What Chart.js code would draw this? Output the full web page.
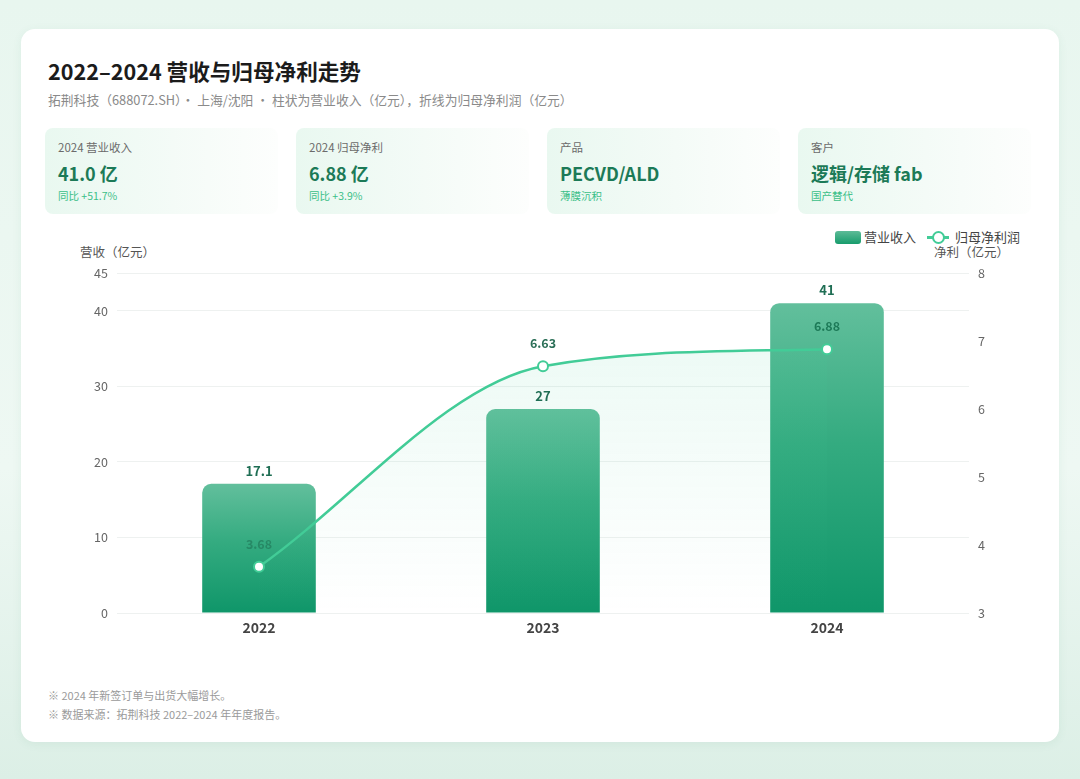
<!DOCTYPE html>
<html>
<head>
<meta charset="utf-8">
<script src="https://cdn.jsdelivr.net/npm/chart.js@4.4.1/dist/chart.umd.min.js"></script>
<style>
  html,body{margin:0;padding:0;}
  body{width:1080px;height:779px;overflow:hidden;position:relative;
    background:linear-gradient(180deg,#e8f6ef 0%,#eef8f3 60%,#dcefe6 100%);
    font-family:"Noto Sans CJK SC","Noto Sans",sans-serif;}
  .card{position:absolute;left:21px;top:29px;width:1038px;height:713px;background:#fff;border-radius:14px;
    box-shadow:0 2px 10px rgba(60,140,100,0.08);}
  .abs{position:absolute;white-space:nowrap;}
  .title{left:48px;top:56px;font-size:21.6px;font-weight:700;color:#1b1b1b;line-height:30px;}
  .sub{left:48px;top:90px;font-size:12.8px;color:#8a8a8a;line-height:20px;}
  .kpi{position:absolute;top:128px;width:233px;height:86px;border-radius:8px;
    background:linear-gradient(90deg,#e9f8f0 0%,#f4fbf7 55%,#fdfefd 100%);}
  .kpi .l{position:absolute;left:13px;top:11px;font-size:11.5px;color:#6b6b6b;line-height:16px;}
  .kpi .v{position:absolute;left:13px;top:32px;font-size:18px;font-weight:700;color:#1c7a57;line-height:26px;}
  .kpi .s{position:absolute;left:13px;top:60px;font-size:10.5px;color:#3bbf88;line-height:15px;}
  .axt{font-size:12.5px;color:#555;line-height:16px;}
  .leg{font-size:13px;color:#444;line-height:16px;}
  .foot{left:48px;font-size:11px;color:#9a9a9a;line-height:16px;}
  #wrap{position:absolute;left:40px;top:225px;width:1000px;height:420px;}
</style>
</head>
<body>
<div class="card"></div>
<div class="abs title">2022–2024 营收与归母净利走势</div>
<div class="abs sub">拓荆科技（688072.SH）· 上海/沈阳 · 柱状为营业收入（亿元），折线为归母净利润（亿元）</div>

<div class="kpi" style="left:45px"><div class="l">2024 营业收入</div><div class="v">41.0 亿</div><div class="s">同比 +51.7%</div></div>
<div class="kpi" style="left:296px"><div class="l">2024 归母净利</div><div class="v">6.88 亿</div><div class="s">同比 +3.9%</div></div>
<div class="kpi" style="left:547px"><div class="l">产品</div><div class="v">PECVD/ALD</div><div class="s">薄膜沉积</div></div>
<div class="kpi" style="left:798px"><div class="l">客户</div><div class="v">逻辑/存储 fab</div><div class="s">国产替代</div></div>

<div class="abs axt" style="left:80px;top:244px;">营收（亿元）</div>
<div class="abs axt" style="left:934px;top:244px;">净利（亿元）</div>

<div class="abs" style="left:835px;top:231px;width:26px;height:13px;border-radius:3px;background:linear-gradient(180deg,#5dbb97,#179c6c);"></div>
<div class="abs leg" style="left:864px;top:229px;">营业收入</div>
<div class="abs" style="left:927px;top:236px;width:22px;height:2.5px;background:#42cc97;"></div>
<div class="abs" style="left:932px;top:231px;width:9px;height:9px;border-radius:50%;background:#fff;border:2px solid #42cc97;"></div>
<div class="abs leg" style="left:955px;top:229px;">归母净利润</div>

<div id="wrap"><canvas id="c"></canvas></div>

<div class="abs foot" style="top:687px;">※ 2024 年新签订单与出货大幅增长。</div>
<div class="abs foot" style="top:706px;">※ 数据来源：拓荆科技 2022–2024 年年度报告。</div>

<script>
const categories = ["2022", "2023", "2024"];
const revenue = [17.1, 27, 41];
const netProfit = [3.68, 6.63, 6.88];
const revenueTicks = [0, 10, 20, 30, 40, 45];
const profitTicks = [3, 4, 5, 6, 7, 8];

const labelPlugin = {
  id: 'labels',
  afterDatasetsDraw(chart) {
    const ctx = chart.ctx;
    ctx.save();
    ctx.textAlign = 'center';
    ctx.textBaseline = 'middle';
    const barMeta = chart.getDatasetMeta(1);
    ctx.font = '700 13px "Noto Sans CJK SC", sans-serif';
    ctx.fillStyle = '#1f6e54';
    barMeta.data.forEach((el, i) => {
      ctx.fillText(String(revenue[i]), el.x, el.y - 13);
    });
    const lineMeta = chart.getDatasetMeta(0);
    ctx.font = '700 12.5px "Noto Sans CJK SC", sans-serif';
    lineMeta.data.forEach((el, i) => {
      ctx.fillStyle = i === 0 ? 'rgba(30,110,80,0.55)' : (i === 2 ? '#1d7a58' : '#2b6f57');
      ctx.fillText(netProfit[i].toFixed(2), el.x, el.y - 23);
    });
    ctx.restore();
  }
};

function barGradient(context) {
  const chart = context.chart;
  const area = chart.chartArea;
  if (!area) return '#2aa87a';
  const y = chart.scales.y;
  const v = revenue[context.dataIndex];
  const top = y.getPixelForValue(v);
  const bottom = y.getPixelForValue(0);
  const g = chart.ctx.createLinearGradient(0, top, 0, bottom);
  g.addColorStop(0, '#62bf9c');
  g.addColorStop(0.45, '#34ab80');
  g.addColorStop(1, '#0f9669');
  return g;
}

function lineFill(context) {
  const chart = context.chart;
  const area = chart.chartArea;
  if (!area) return 'rgba(66,204,151,0.08)';
  const g = chart.ctx.createLinearGradient(0, area.top, 0, area.bottom);
  g.addColorStop(0, 'rgba(66,204,151,0.12)');
  g.addColorStop(1, 'rgba(66,204,151,0.0)');
  return g;
}

new Chart(document.getElementById('c'), {
  data: {
    labels: categories,
    datasets: [
      {
        type: 'line',
        label: '归母净利润',
        data: netProfit,
        yAxisID: 'y1',
        order: 0,
        borderColor: '#42cc97',
        borderWidth: 2.5,
        cubicInterpolationMode: 'monotone',
        fill: 'start',
        backgroundColor: lineFill,
        pointRadius: 5,
        pointBorderWidth: 2,
        pointBackgroundColor: '#ffffff',
        pointBorderColor: '#42cc97'
      },
      {
        type: 'bar',
        label: '营业收入',
        data: revenue,
        yAxisID: 'y',
        order: 1,
        backgroundColor: barGradient,
        borderRadius: {topLeft: 9, topRight: 9, bottomLeft: 0, bottomRight: 0},
        borderSkipped: 'bottom',
        categoryPercentage: 1.0,
        barPercentage: 0.4
      }
    ]
  },
  options: {
    responsive: true,
    maintainAspectRatio: false,
    animation: false,
    layout: {padding: {top: 48, left: 0, right: 0, bottom: 0}},
    plugins: {legend: {display: false}, tooltip: {enabled: false}},
    scales: {
      x: {
        grid: {display: false, drawTicks: false},
        border: {display: false},
        ticks: {padding: 6, color: '#444', font: {family: '"Noto Sans CJK SC", sans-serif', size: 14, weight: '700'}},
        afterFit(s) { s.height = 32; }
      },
      y: {
        position: 'left',
        min: 0, max: 45,
        afterBuildTicks(s) { s.ticks = revenueTicks.map(v => ({value: v})); },
        grid: {color: '#eef1f0', lineWidth: 1, drawTicks: false},
        border: {display: false},
        ticks: {padding: 9, color: '#666', font: {family: '"Noto Sans CJK SC", sans-serif', size: 12.5}},
        afterFit(s) { s.width = 77; }
      },
      y1: {
        position: 'right',
        min: 3, max: 8,
        afterBuildTicks(s) { s.ticks = profitTicks.map(v => ({value: v})); },
        grid: {display: false, drawTicks: false},
        border: {display: false},
        ticks: {padding: 9, color: '#666', font: {family: '"Noto Sans CJK SC", sans-serif', size: 12.5}},
        afterFit(s) { s.width = 71; }
      }
    }
  },
  plugins: [labelPlugin]
});
</script>
</body>
</html>
